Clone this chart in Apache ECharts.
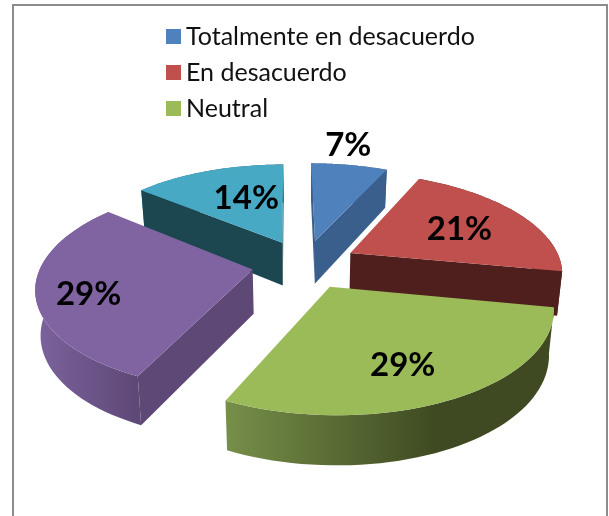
<!DOCTYPE html>
<html><head><meta charset="utf-8">
<style>html,body{margin:0;padding:0;background:#fff}#c{width:609px;height:516px}</style>
<script src="https://cdn.jsdelivr.net/npm/echarts@6/dist/echarts.min.js"></script>
</head><body><div id="c"></div>
<script>
const categories = ['Totalmente en desacuerdo','En desacuerdo','Neutral','De acuerdo','Totalmente de acuerdo'];
const values = [7,21,29,29,14];
const legendEntries = ['Totalmente en desacuerdo','En desacuerdo','Neutral'];
const topColors = ['#4f81bd','#c0504d','#9bbb59','#8064a2','#47a9c4'];
const cutColors = ['#3b5f8c','#4f1f1e','#3f4a22','#5e4876','#1c4650'];
const wallStops = [['#3b5f8c','#3b5f8c'],['#4f1f1e','#4f1f1e'],['#768f49','#3f4a22'],['#7c639e','#5e4876'],['#2f7f95','#1c4650']];
const labelRadius = [1.35,0.66,0.7,0.73,0.6];
const labelNudge = [[-11,2],[-4,3],[-10,4],[-7,9],[11,1]];
const drawOrder = [4,0,1,3,2];

const P = {cx:304.5, cy:264, A:211, B:98, p:0.17, shear:2.2, explode:0.25, lowShrink:0.98};
const total = values.reduce((a,b)=>a+b,0);
const starts = values.map((_,i)=>values.slice(0,i).reduce((a,b)=>a+b,0)/total*Math.PI*2);
function proj(U,V,low){
  const w = 1-P.p*V;
  const d = low ? 44+5*V : 0;
  const s = low ? P.lowShrink : 1;
  return [P.cx+s*P.A*U/w+P.shear*V, P.cy+P.B*V/w+d];
}
function area(pts){let s=0;pts.forEach((a,i)=>{const b=pts[(i+1)%pts.length];s+=a[0]*b[1]-b[0]*a[1];});return s;}
function renderSlice(i, api){
  const v = api.value(0);
  const a0 = starts[i], a1 = a0 + v/total*Math.PI*2, m=(a0+a1)/2;
  const ox = P.explode*Math.sin(m), oy = -P.explode*Math.cos(m);
  const at = (r,a)=>[ox+r*Math.sin(a), oy-r*Math.cos(a)];
  const n = 48, arc=[];
  for(let k=0;k<=n;k++) arc.push(at(1,a0+(a1-a0)*k/n));
  const c=[ox,oy];
  const T=q=>proj(q[0],q[1],false), L=q=>proj(q[0],q[1],true);
  const topPts=[T(c)].concat(arc.map(T));
  const kids=[];
  // outer wall
  const xs=arc.map(T).map(q=>q[0]);
  const x0=Math.min(...xs), x1=Math.max(...xs);
  const wall=arc.map(T).concat(arc.map(L).reverse());
  const stops=wallStops[i];
  kids.push({type:'polygon',shape:{points:wall},style:{fill:{type:'linear',x:x0,y:0,x2:i===2?x0+210:x1,y2:0,global:true,
    colorStops:[{offset:0,color:stops[0]},{offset:1,color:stops[1]}]}}});
  // the two radial cut faces, only when they face the viewer
  [[c,arc[0]],[arc[n],c]].forEach(e=>{
    const f=[T(e[0]),T(e[1]),L(e[1]),L(e[0])];
    if(area(f)<0) kids.push({type:'polygon',shape:{points:f},style:{fill:cutColors[i]}});
  });
  kids.push({type:'polygon',shape:{points:topPts},style:{fill:topColors[i]}});
  const lp=T(at(labelRadius[i],m));
  kids.push({type:'text',z2:50,style:{x:lp[0]+labelNudge[i][0],y:lp[1]+labelNudge[i][1],text:Math.round(v/total*100)+'%',fill:'#000',
    font:'bold 33px Lato, "Open Sans", sans-serif',align:'center',verticalAlign:'middle'}});
  return {type:'group',children:kids};
}
const chart = echarts.init(document.getElementById('c'),null,{renderer:'canvas'});
chart.setOption({
  animation:false,
  color:topColors,
  legend:{data:legendEntries,orient:'vertical',left:161,top:19,itemWidth:15,itemHeight:15,itemGap:11,
    icon:'rect',textStyle:{fontFamily:'Lato, "Open Sans", sans-serif',fontSize:25,lineHeight:20,color:'#111'}},
  graphic:[{type:'rect',silent:true,z:-1,shape:{x:13,y:5,width:594,height:530},style:{fill:'none',stroke:'#8c8c8c',lineWidth:2}}],
  xAxis:{show:false},yAxis:{show:false},
  series:drawOrder.map((i,o)=>({
    type:'custom',name:categories[i],coordinateSystem:'none',z:2+o,
    itemStyle:{color:topColors[i]},
    data:[[values[i]]],
    renderItem:(params,api)=>renderSlice(i,api)
  }))
});
</script></body></html>
